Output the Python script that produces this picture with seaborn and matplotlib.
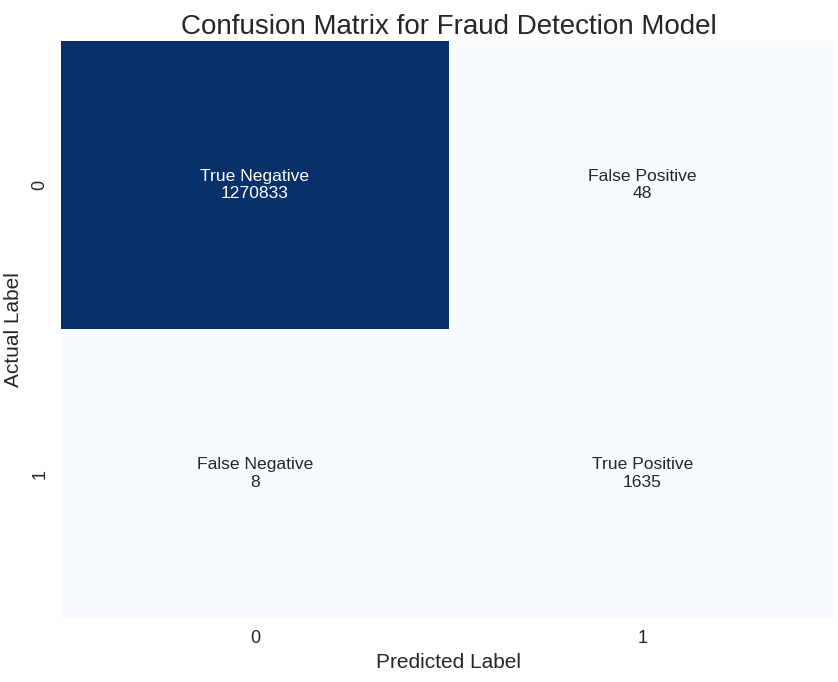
import numpy as np
import matplotlib
matplotlib.use("Agg")
import matplotlib.pyplot as plt
import seaborn as sns

# ── Data ──────────────────────────────────────────────────────────────────────
actual_labels    = ["0", "1"]
predicted_labels = ["0", "1"]
cell_names  = [["True Negative", "False Positive"],
               ["False Negative", "True Positive"]]
cell_counts = [[1270833, 48],
               [8, 1635]]

# ── Style ─────────────────────────────────────────────────────────────────────
sns.set_style("white")
plt.rcParams["font.family"] = ["Liberation Sans", "DejaVu Sans"]

cm = np.array(cell_counts)
annot = np.array([[f"{n}\n{c}" for n, c in zip(rn, rc)]
                  for rn, rc in zip(cell_names, cell_counts)])

fig = plt.figure(figsize=(8.38, 6.82), dpi=100)
ax = fig.add_axes([0.073, 0.094, 0.925, 0.846])
sns.heatmap(cm, annot=annot, fmt="", cmap="Blues", cbar=False, ax=ax,
            xticklabels=predicted_labels, yticklabels=actual_labels,
            annot_kws={"size": 12.6})
ax.set_title("Confusion Matrix for Fraud Detection Model", fontsize=20, pad=5)
ax.set_xlabel("Predicted Label", fontsize=15, labelpad=4)
ax.set_ylabel("Actual Label", fontsize=15, labelpad=6)
ax.tick_params(axis="both", labelsize=13, length=0, pad=9)
plt.setp(ax.get_yticklabels(), rotation=90, va="center")
fig.savefig("out.png", dpi=100)
